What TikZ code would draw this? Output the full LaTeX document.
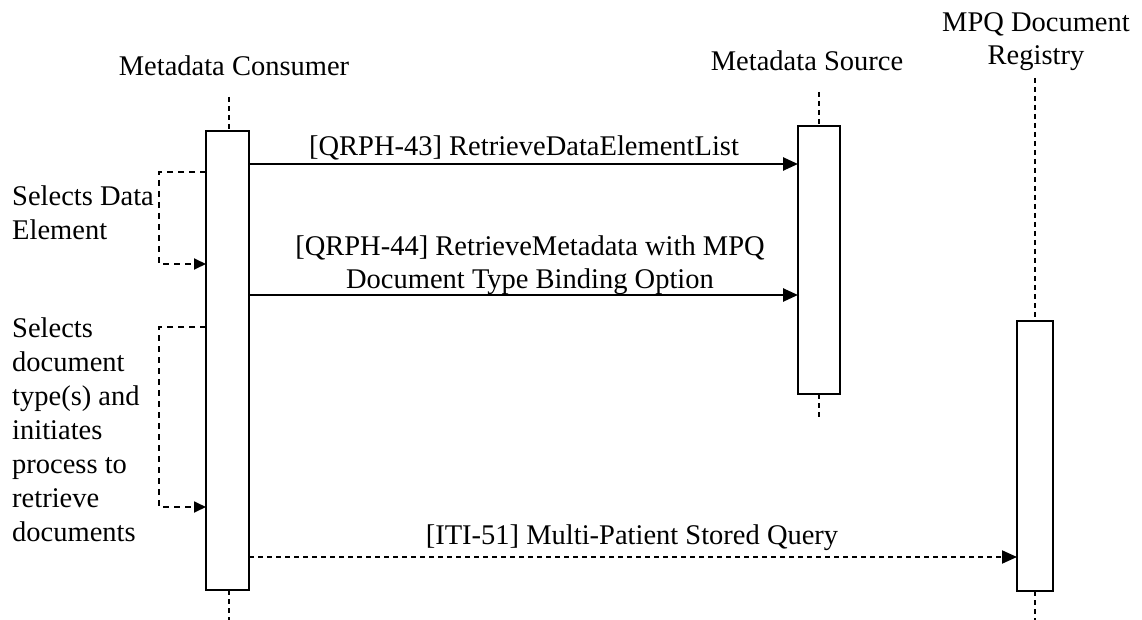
\documentclass[tikz,border=0pt]{standalone}
\usepackage{fontspec}
\setmainfont{Liberation Serif}
\usetikzlibrary{arrows.meta}
\begin{document}
\begin{tikzpicture}[x=1pt,y=-1pt,
  lbl/.style={font=\fontsize{28.5}{33}\selectfont, inner sep=0pt, align=center},
  lftlbl/.style={font=\fontsize{28.5}{33.9}\selectfont, inner sep=0pt, align=left, anchor=north west},
  bar/.style={draw, line width=2pt, fill=white},
  life/.style={draw, line width=1.8pt, dash pattern=on 5pt off 4pt},
  msg/.style={line width=2.5pt, -{Triangle[length=15pt,width=13pt]}},
  dmsg/.style={line width=2pt, dash pattern=on 5pt off 4pt, -{Triangle[length=15pt,width=13pt]}},
  loopl/.style={line width=1.8pt, dash pattern=on 6pt off 5pt, -{Triangle[length=12pt,width=11pt]}}]
\useasboundingbox (0,0) rectangle (1142,620);

% lifelines
\draw[life] (229,97) -- (229,131);
\draw[life] (229,590) -- (229,620);
\draw[life] (819,92) -- (819,126);
\draw[life] (819,394) -- (819,420);
\draw[life] (1035,78) -- (1035,321);
\draw[life] (1035,591) -- (1035,620);

% activation bars
\path[bar] (206,131) rectangle (249,590);
\path[bar] (798,126) rectangle (840,394);
\path[bar] (1017,321) rectangle (1053,591);
\coordinate (cR1) at (249,164);
\coordinate (sL1) at (798,164);
\coordinate (cR2) at (249,295);
\coordinate (sL2) at (798,295);
\coordinate (cR3) at (249,557);
\coordinate (rL3) at (1017,557);
\coordinate (l1a) at (206,172);
\coordinate (l1b) at (206,264);
\coordinate (l2a) at (206,327);
\coordinate (l2b) at (206,507);

% titles
\node[lbl] (tc) at (234,66) {Metadata Consumer};
\node[lbl] (ts) at (807,61) {Metadata Source};
\node[lbl] (tr) at (1036,42) {MPQ Document\\Registry};

% messages
\draw[msg] (cR1) -- (sL1);
\node[lbl] (m1) at (524,148) {[QRPH-43] RetrieveDataElementList};
\draw[msg] (cR2) -- (sL2);
\node[lbl] (m2) at (530,265) {[QRPH-44] RetrieveMetadata with MPQ\\Document Type Binding Option};
\draw[dmsg] (cR3) -- (rL3);
\node[lbl] (m3) at (632,538) {[ITI-51] Multi-Patient Stored Query};

% self loops
\draw[loopl] (l1a) -- (159,172) -- (159,264) -- (l1b);
\draw[loopl] (l2a) -- (159,327) -- (159,507) -- (l2b);
\node[lftlbl] (s1) at (12,186) {Selects Data\\Element};
\node[lftlbl] (s2) at (12,318) {Selects\\document\\type(s) and\\initiates\\process to\\retrieve\\documents};
\end{tikzpicture}
\end{document}
